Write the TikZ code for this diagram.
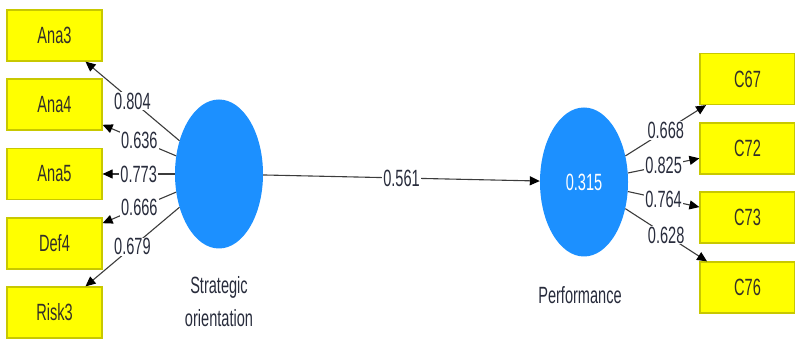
\documentclass[tikz,border=0pt]{standalone}
\usepackage{fontspec}
\setmainfont{Liberation Sans}[FakeStretch=0.62]
\usetikzlibrary{shapes.geometric,arrows.meta}
\definecolor{boxborder}{RGB}{200,200,0}
\definecolor{boxfill}{RGB}{255,255,0}
\definecolor{lvblue}{RGB}{28,144,255}
\definecolor{lbltext}{RGB}{40,44,60}
\definecolor{linecol}{RGB}{60,60,60}
\tikzset{
  indbox/.style={draw=boxborder, fill=boxfill, line width=1.2pt, minimum width=95pt, minimum height=51pt, inner sep=0pt, font=\fontsize{23.5}{26}\selectfont, text=black!85!olive},
  lv/.style={ellipse, fill=lvblue, minimum width=88pt, minimum height=149pt, inner sep=0pt, font=\fontsize{23.5}{26}\selectfont, text=white},
  lvname/.style={font=\fontsize{23.5}{33}\selectfont, text=lbltext, align=center},
  conn/.style={draw=linecol, line width=1.1pt, -{Triangle[length=10pt,width=9pt,color=black]}},
  wt/.style={midway, fill=white, inner sep=1pt, font=\fontsize{23.5}{26}\selectfont, text=lbltext}
}
\begin{document}
\begin{tikzpicture}[x=1pt,y=-1pt]
\useasboundingbox (0,0) rectangle (795,344);
% latent variables
\node[lv] (so) at (219,174) {};
\node[lv] (perf) at (584,182) {0.315};
\node[lvname] (soname) at (219,302) {Strategic\\orientation};
\node[lvname] (perfname) at (580,295) {Performance};
% left indicators
\node[indbox] (ana3) at (54.5,35.5) {Ana3};
\node[indbox] (ana4) at (54.5,104.5) {Ana4};
\node[indbox] (ana5) at (54.5,174) {Ana5};
\node[indbox] (def4) at (54.5,243.5) {Def4};
\node[indbox] (risk3) at (54.5,312.5) {Risk3};
% right indicators
\node[indbox] (c67) at (747.5,79) {C67};
\node[indbox] (c72) at (747.5,148.5) {C72};
\node[indbox] (c73) at (747.5,217.5) {C73};
\node[indbox] (c76) at (747.5,287.5) {C76};
% connectors
\draw[conn] (so) -- (ana3) node[wt] {0.804};
\draw[conn] (so) -- (ana4) node[wt] {0.636};
\draw[conn] (so) -- (ana5) node[wt] {0.773};
\draw[conn] (so) -- (def4) node[wt] {0.666};
\draw[conn] (so) -- (risk3) node[wt] {0.679};
\draw[conn] (so) -- (perf) node[wt] {0.561};
\draw[conn] (perf) -- (c67) node[wt] {0.668};
\draw[conn] (perf) -- (c72) node[wt] {0.825};
\draw[conn] (perf) -- (c73) node[wt] {0.764};
\draw[conn] (perf) -- (c76) node[wt] {0.628};
\end{tikzpicture}
\end{document}
